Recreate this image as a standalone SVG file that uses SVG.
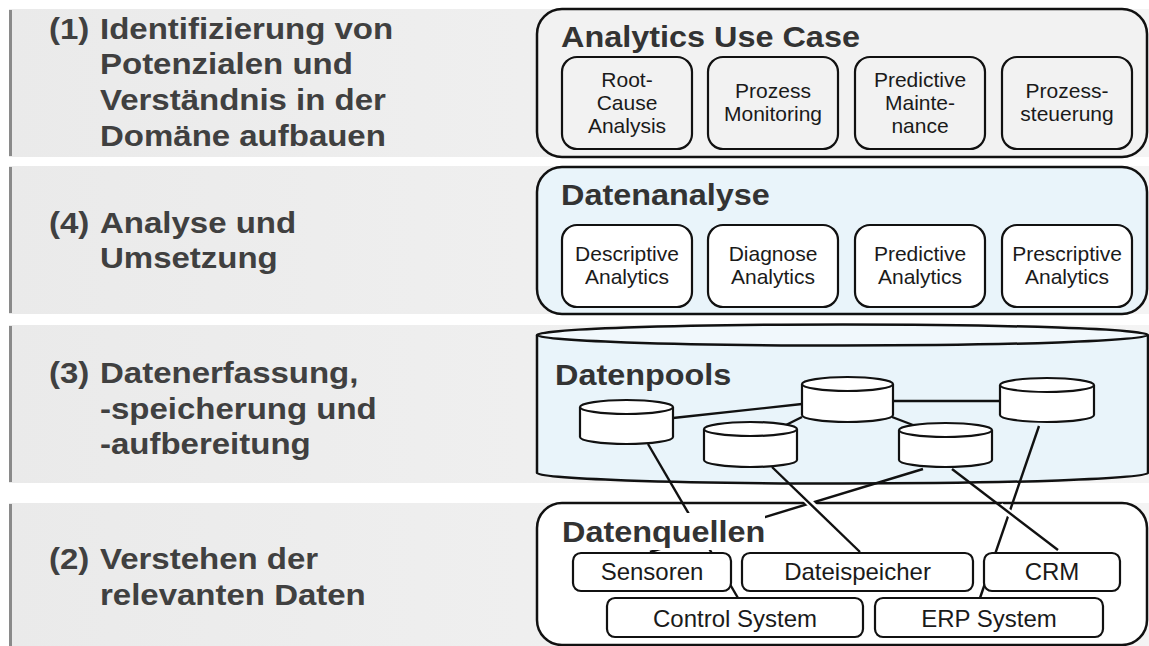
<svg xmlns="http://www.w3.org/2000/svg" width="1149" height="646" viewBox="0 0 1149 646">
<defs>
<linearGradient id="bandg" x1="0" y1="0" x2="1" y2="0">
<stop offset="0" stop-color="#eaeaea"/>
<stop offset="0.45" stop-color="#efefef"/>
<stop offset="1" stop-color="#f4f4f4"/>
</linearGradient>
<style>
.band{fill:url(#bandg);}
.bar{fill:#8a8a8a;}
.bt{font-family:"Liberation Sans",Arial,sans-serif;font-weight:bold;font-size:30px;fill:#404040;}
.title{font-family:"Liberation Sans",Arial,sans-serif;font-weight:bold;font-size:30px;fill:#333333;}
.st{font-family:"Liberation Sans",Arial,sans-serif;font-size:21px;fill:#1a1a1a;text-anchor:middle;}
.qt{font-family:"Liberation Sans",Arial,sans-serif;font-size:24px;fill:#1a1a1a;text-anchor:middle;}
.outer{stroke:#111;stroke-width:2.5;}
.inner{stroke:#111;stroke-width:2.2;}
.cyl{fill:#ffffff;stroke:#111;stroke-width:2.2;}
.ln{stroke:#111;stroke-width:2.4;fill:none;}
.halo{stroke:#ffffff;stroke-width:7;fill:none;}
</style>
</defs>
<rect width="1149" height="646" fill="#ffffff"/>

<!-- bands -->
<g id="band1">
<rect class="band" x="9" y="9" width="1140" height="148"/>
<rect class="bar" x="9" y="10" width="3" height="146"/>
<text class="bt" transform="matrix(1.1 0 0 1 49 39)">(1)</text>
<text class="bt" transform="matrix(1.1 0 0 1 100 39)">Identifizierung von</text>
<text class="bt" transform="matrix(1.1 0 0 1 100 74)">Potenzialen und</text>
<text class="bt" transform="matrix(1.1 0 0 1 100 110)">Verständnis in der</text>
<text class="bt" transform="matrix(1.1 0 0 1 100 146)">Domäne aufbauen</text>
</g>
<g id="band2">
<rect class="band" x="9" y="166" width="1140" height="148"/>
<rect class="bar" x="9" y="167" width="3" height="146"/>
<text class="bt" transform="matrix(1.1 0 0 1 49 233)">(4)</text>
<text class="bt" transform="matrix(1.1 0 0 1 100 233)">Analyse und</text>
<text class="bt" transform="matrix(1.1 0 0 1 100 268)">Umsetzung</text>
</g>
<g id="band3">
<rect class="band" x="9" y="325" width="1140" height="158"/>
<rect class="bar" x="9" y="326" width="3" height="156"/>
<text class="bt" transform="matrix(1.1 0 0 1 49 383)">(3)</text>
<text class="bt" transform="matrix(1.1 0 0 1 100 383)">Datenerfassung,</text>
<text class="bt" transform="matrix(1.1 0 0 1 100 419)">-speicherung und</text>
<text class="bt" transform="matrix(1.1 0 0 1 100 454)">-aufbereitung</text>
</g>
<g id="band4">
<rect class="band" x="9" y="503" width="1140" height="143"/>
<rect class="bar" x="9" y="504" width="3" height="142"/>
<text class="bt" transform="matrix(1.1 0 0 1 49 569)">(2)</text>
<text class="bt" transform="matrix(1.1 0 0 1 100 569)">Verstehen der</text>
<text class="bt" transform="matrix(1.1 0 0 1 100 605)">relevanten Daten</text>
</g>

<!-- Analytics Use Case -->
<g id="usecase">
<rect class="outer" x="537" y="9" width="610" height="148" rx="25" fill="#f2f2f2"/>
<text class="title" transform="matrix(1.08 0 0 1 561 47)">Analytics Use Case</text>
<g id="uc-rca">
<rect class="inner" x="562" y="57" width="130" height="92" rx="15" fill="#f2f2f2"/>
<text class="st" x="627" y="87">Root-</text>
<text class="st" x="627" y="110">Cause</text>
<text class="st" x="627" y="133">Analysis</text>
</g>
<g id="uc-monitoring">
<rect class="inner" x="708" y="57" width="130" height="92" rx="15" fill="#f2f2f2"/>
<text class="st" x="773" y="98">Prozess</text>
<text class="st" x="773" y="121">Monitoring</text>
</g>
<g id="uc-maintenance">
<rect class="inner" x="855" y="57" width="130" height="92" rx="15" fill="#f2f2f2"/>
<text class="st" x="920" y="87">Predictive</text>
<text class="st" x="920" y="110">Mainte-</text>
<text class="st" x="920" y="133">nance</text>
</g>
<g id="uc-steuerung">
<rect class="inner" x="1002" y="57" width="130" height="92" rx="15" fill="#f2f2f2"/>
<text class="st" x="1067" y="98">Prozess-</text>
<text class="st" x="1067" y="121">steuerung</text>
</g>
</g>

<!-- Datenanalyse -->
<g id="datenanalyse">
<rect class="outer" x="537" y="167" width="610" height="147" rx="25" fill="#e9f4fa"/>
<text class="title" transform="matrix(1.08 0 0 1 561 205)">Datenanalyse</text>
<g id="da-descriptive">
<rect class="inner" x="562" y="225" width="130" height="82" rx="15" fill="#ffffff"/>
<text class="st" x="627" y="261">Descriptive</text>
<text class="st" x="627" y="284">Analytics</text>
</g>
<g id="da-diagnose">
<rect class="inner" x="708" y="225" width="130" height="82" rx="15" fill="#ffffff"/>
<text class="st" x="773" y="261">Diagnose</text>
<text class="st" x="773" y="284">Analytics</text>
</g>
<g id="da-predictive">
<rect class="inner" x="855" y="225" width="130" height="82" rx="15" fill="#ffffff"/>
<text class="st" x="920" y="261">Predictive</text>
<text class="st" x="920" y="284">Analytics</text>
</g>
<g id="da-prescriptive">
<rect class="inner" x="1002" y="225" width="130" height="82" rx="15" fill="#ffffff"/>
<text class="st" x="1067" y="261">Prescriptive</text>
<text class="st" x="1067" y="284">Analytics</text>
</g>
</g>

<!-- Datenpools container cylinder -->
<g id="datenpools">
<path class="outer" d="M537,335 V473 A305.5,10.5 0 0 0 1148,473 V335" fill="#e9f4fa"/>
<ellipse class="outer" cx="842.5" cy="335" rx="305.5" ry="10.5" fill="#f1f8fc"/>
<text class="title" transform="matrix(1.08 0 0 1 555 385)">Datenpools</text>
</g>

<!-- Datenquellen container -->
<g id="datenquellen">
<rect class="outer" x="537" y="503" width="610" height="142" rx="25" fill="#ffffff"/>
</g>

<!-- connectors -->
<g id="connectors">
<line class="ln" x1="673" y1="418" x2="802" y2="404"/>
<line class="ln" x1="893" y1="401" x2="1000" y2="401"/>
<line class="ln" x1="786" y1="425" x2="802" y2="417"/>
<line class="ln" x1="892" y1="417" x2="913" y2="425"/>
<line class="ln" x1="648" y1="444" x2="738" y2="598"/>
<line class="ln" x1="923" y1="469" x2="650" y2="552"/>
<line class="halo" x1="802" y1="495" x2="818" y2="511"/>
<line class="ln" x1="772" y1="467" x2="860" y2="552"/>
<line class="ln" x1="1039" y1="426" x2="980" y2="598"/>
<line class="halo" x1="1000" y1="506" x2="1018" y2="520"/>
<line class="ln" x1="952" y1="469" x2="1058" y2="550"/>
</g>

<!-- small cylinders -->
<g id="pool-a">
<path class="cyl" d="M580,407 V437 A46.5,7 0 0 0 673,437 V407"/>
<ellipse class="cyl" cx="626.5" cy="407" rx="46.5" ry="7"/>
</g>
<g id="pool-b">
<path class="cyl" d="M802,384 V415 A45.5,7 0 0 0 893,415 V384"/>
<ellipse class="cyl" cx="847.5" cy="384" rx="45.5" ry="7"/>
</g>
<g id="pool-c">
<path class="cyl" d="M704,429 V460 A46.5,7 0 0 0 797,460 V429"/>
<ellipse class="cyl" cx="750.5" cy="429" rx="46.5" ry="7"/>
</g>
<g id="pool-d">
<path class="cyl" d="M899,430 V460 A46.5,7 0 0 0 992,460 V430"/>
<ellipse class="cyl" cx="945.5" cy="430" rx="46.5" ry="7"/>
</g>
<g id="pool-e">
<path class="cyl" d="M1000,385 V415 A47,7 0 0 0 1094,415 V385"/>
<ellipse class="cyl" cx="1047" cy="385" rx="47" ry="7"/>
</g>

<!-- data sources -->
<g id="src-sensoren">
<rect class="inner" x="573" y="553" width="158" height="38" rx="8" fill="#ffffff"/>
<text class="qt" x="652" y="580">Sensoren</text>
</g>
<g id="src-dateispeicher">
<rect class="inner" x="742" y="553" width="231" height="38" rx="8" fill="#ffffff"/>
<text class="qt" x="857.5" y="580">Dateispeicher</text>
</g>
<g id="src-crm">
<rect class="inner" x="984" y="553" width="136" height="38" rx="8" fill="#ffffff"/>
<text class="qt" x="1052" y="580">CRM</text>
</g>
<g id="src-control">
<rect class="inner" x="607" y="598" width="256" height="39" rx="8" fill="#ffffff"/>
<text class="qt" x="735" y="627">Control System</text>
</g>
<g id="src-erp">
<rect class="inner" x="875" y="598" width="228" height="39" rx="8" fill="#ffffff"/>
<text class="qt" x="989" y="627">ERP System</text>
</g>
<g id="datenquellen-title">
<rect x="560" y="513" width="205" height="37" fill="#ffffff"/>
<text class="title" transform="matrix(1.08 0 0 1 562 542)">Datenquellen</text>
</g>
</svg>
